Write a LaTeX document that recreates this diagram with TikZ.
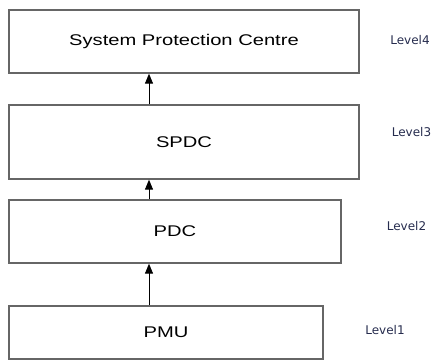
\documentclass[tikz,border=0pt]{standalone}
\usepackage{fontspec}
\usetikzlibrary{arrows.meta}
\newfontfamily\boxfont[FakeStretch=1.3]{Liberation Sans}
\newfontfamily\levelfont{DejaVu Sans}
\definecolor{levelblue}{RGB}{38,44,78}

\tikzset{
  layer/.style={draw=black!60, line width=1.3pt, fill=white, inner sep=0pt,
                font=\boxfont\fontsize{15.5}{18}\selectfont},
  lvl/.style={text=levelblue, font=\levelfont\fontsize{12}{14}\selectfont},
  up/.style={-{Triangle[width=8pt,length=10pt]}, line width=1pt}
}

\begin{document}
\begin{tikzpicture}[x=1pt,y=-1pt]
                      \useasboundingbox (0,0) rectangle (445,360);
                      % the four layers, bottom one narrowest
                      \node[layer, minimum width=350pt, minimum height=63pt] (spc) at (184,41.5) {System Protection Centre};
                      \node[layer, minimum width=350pt, minimum height=74pt] (spdc) at (184,142) {SPDC};
                      \node[layer, minimum width=332pt, minimum height=63pt] (pdc) at (175,231.5) {PDC};
                      \node[layer, minimum width=314pt, minimum height=53pt] (pmu) at (166,332.5) {PMU};

                      % arrows all sit on one vertical line
                      \coordinate (axis) at (149,0);
                      \draw[up] (pmu.north -| axis) -- (pdc.south -| axis);
                      \draw[up] (pdc.north -| axis) -- (spdc.south -| axis);
                      \draw[up] (spdc.north -| axis) -- (spc.south -| axis);

                      % level tags on the right
                      \foreach \n/\x/\y in {4/410/40, 3/411.5/132.5, 2/406.5/226, 1/385/330} {
                              \node[lvl] (level\n) at (\x,\y) {Level\n};
                          }
                  \end{tikzpicture}
\end{document}
